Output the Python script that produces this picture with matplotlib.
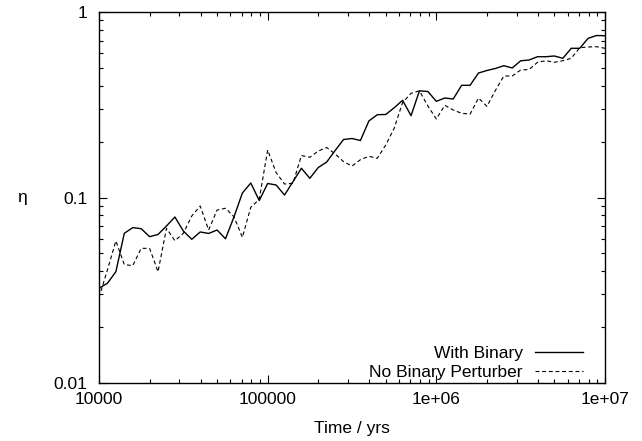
import numpy as np
import matplotlib
matplotlib.use("Agg")
import matplotlib.pyplot as plt
from matplotlib.ticker import FixedLocator, FixedFormatter, LogLocator, NullFormatter

plt.rcParams['font.family'] = ['Liberation Sans', 'DejaVu Sans']

# Time grid: 20 samples per decade from 1e4 to 1e7 yrs
time_yrs = np.logspace(4, 7, 61)

with_binary = [
    0.0324, 0.0345, 0.0398, 0.0641, 0.0688, 0.0679, 0.0615, 0.0632, 0.0702, 0.0785,
    0.0660, 0.0595, 0.0652, 0.0640, 0.0668, 0.0599, 0.0785, 0.1057, 0.1197, 0.0963,
    0.1190, 0.1168, 0.1031, 0.1217, 0.1437, 0.1269, 0.1451, 0.1553, 0.1792, 0.2054,
    0.2080, 0.2029, 0.2585, 0.2795, 0.2802, 0.3046, 0.3342, 0.2761, 0.3759, 0.3727,
    0.3300, 0.3438, 0.3396, 0.4025, 0.4025, 0.4690, 0.4838, 0.4960, 0.5135, 0.4991,
    0.5457, 0.5512, 0.5741, 0.5741, 0.5792, 0.5629, 0.6372, 0.6372, 0.7214, 0.7468,
    0.7450,
]

no_binary = [
    0.0289, 0.0407, 0.0583, 0.0435, 0.0429, 0.0532, 0.0532, 0.0398, 0.0682, 0.0585,
    0.0641, 0.0795, 0.0900, 0.0668, 0.0856, 0.0875, 0.0788, 0.0610, 0.0886, 0.0978,
    0.1803, 0.1364, 0.1182, 0.1192, 0.1684, 0.1647, 0.1781, 0.1860, 0.1716, 0.1560,
    0.1478, 0.1599, 0.1668, 0.1627, 0.1919, 0.2361, 0.3252, 0.3645, 0.3759, 0.3113,
    0.2650, 0.3141, 0.2963, 0.2844, 0.2812, 0.3438, 0.3101, 0.3774, 0.4518, 0.4518,
    0.4869, 0.4898, 0.5357, 0.5463, 0.5357, 0.5463, 0.5629, 0.6420, 0.6477, 0.6501,
    0.6372,
]

x_ticks = [1e4, 1e5, 1e6, 1e7]
x_ticklabels = ["10000", "100000", "1e+06", "1e+07"]
y_ticks = [0.01, 0.1, 1]
y_ticklabels = ["0.01", "0.1", "1"]

FS = 12.5

fig = plt.figure(figsize=(6.42, 4.41), dpi=100)
ax = fig.add_axes([99/642, 1-383/441, (605-99)/642, (383-12)/441])

ax.plot(time_yrs, with_binary, color='black', lw=1.0, label='With Binary')
ax.plot(time_yrs, no_binary, color='black', lw=0.8, linestyle=(0, (3.5, 2.5)),
        label='No Binary Perturber')

ax.set_xscale('log')
ax.set_yscale('log')
ax.set_xlim(1e4, 1e7)
ax.set_ylim(0.01, 1)

ax.xaxis.set_major_locator(FixedLocator(x_ticks))
ax.xaxis.set_major_formatter(FixedFormatter(x_ticklabels))
ax.yaxis.set_major_locator(FixedLocator(y_ticks))
ax.yaxis.set_major_formatter(FixedFormatter(y_ticklabels))
ax.xaxis.set_minor_locator(LogLocator(base=10, subs=np.arange(2, 10)))
ax.yaxis.set_minor_locator(LogLocator(base=10, subs=np.arange(2, 10)))
ax.xaxis.set_minor_formatter(NullFormatter())
ax.yaxis.set_minor_formatter(NullFormatter())

ax.tick_params(which='both', direction='in', top=True, right=True, labelsize=FS)
ax.tick_params(which='major', length=6, width=0.8)
ax.tick_params(which='minor', length=3, width=0.8)
ax.tick_params(axis='x', which='major', pad=6.5)
ax.tick_params(axis='y', which='major', pad=8.5)
for s in ax.spines.values():
    s.set_linewidth(1.0)

ax.set_xlabel('Time / yrs', fontsize=FS, va='center')
ax.xaxis.set_label_coords(0.5, (383-428)/371)
ax.set_ylabel('η', fontsize=FS, rotation=0, va='center', ha='center')
ax.yaxis.set_label_coords((22-99)/506, 0.5)

leg = ax.legend(loc='lower right', bbox_to_anchor=((583-99)/506, 0.008),
                frameon=False, markerfirst=False,
                fontsize=FS, handlelength=2.76, handletextpad=0.7,
                labelspacing=0.2, borderaxespad=0, borderpad=0)
for t in leg.get_texts():
    t.set_ha('right')

fig.savefig('out.png', dpi=100)
